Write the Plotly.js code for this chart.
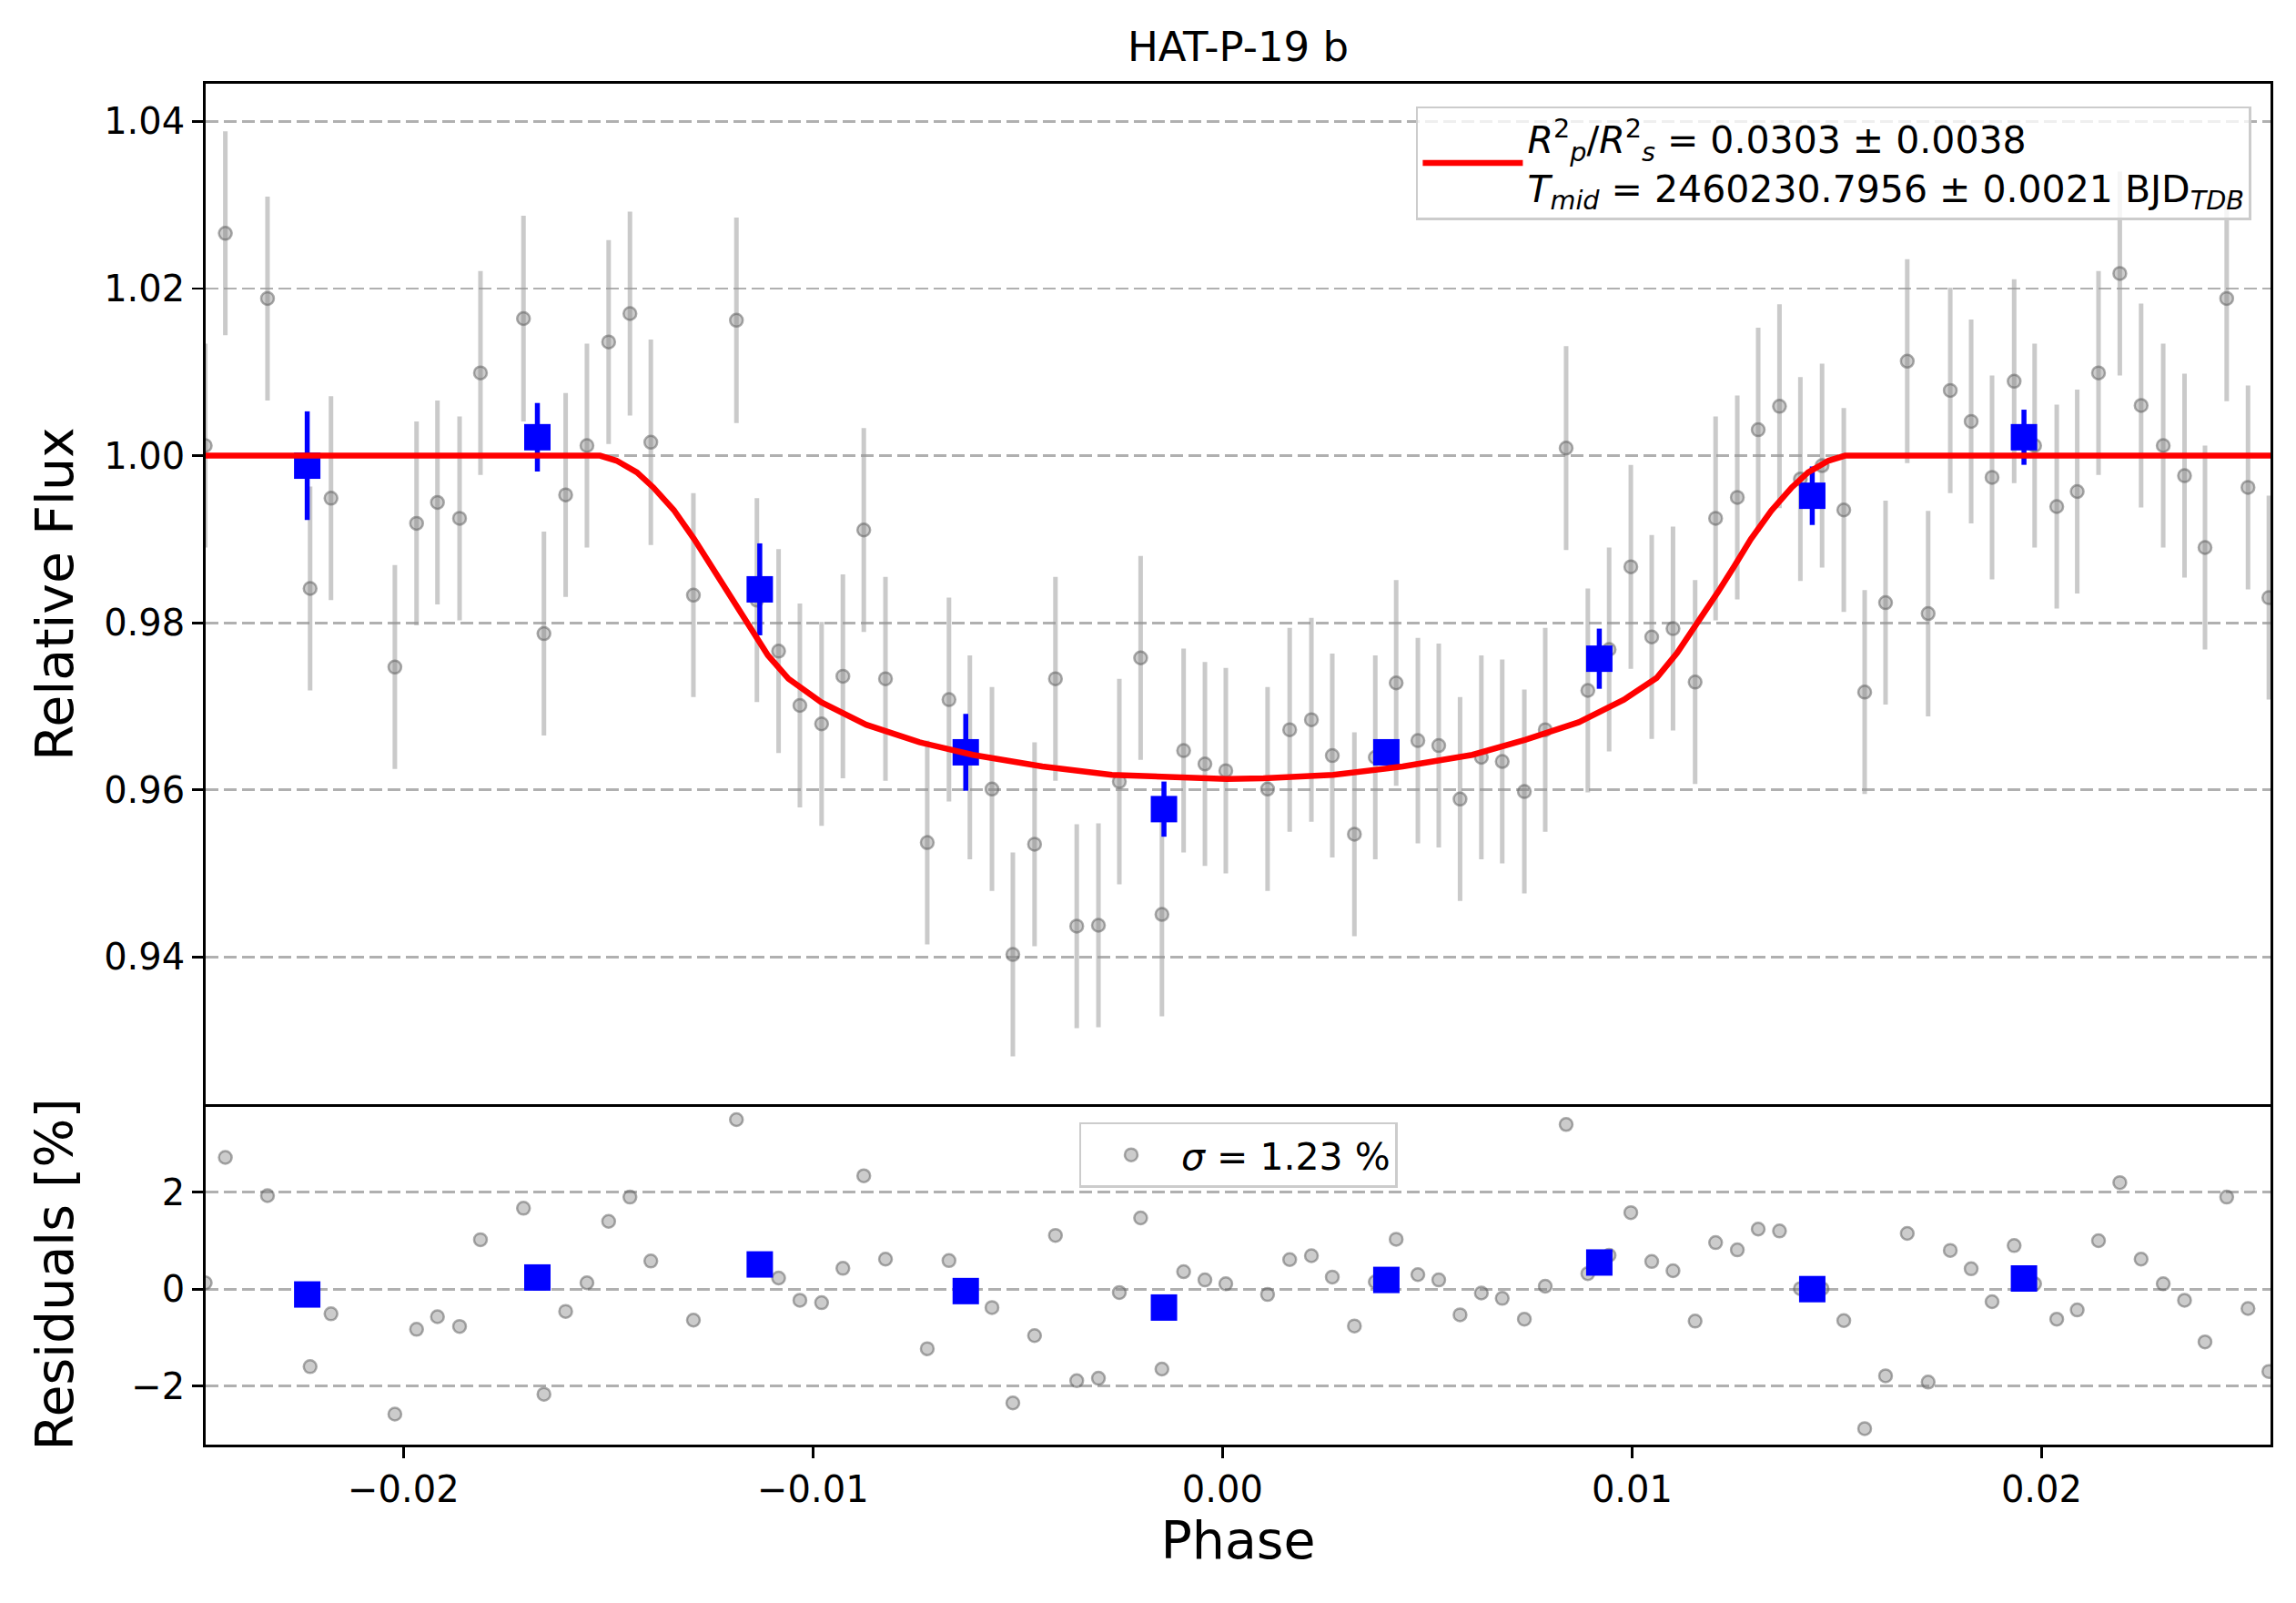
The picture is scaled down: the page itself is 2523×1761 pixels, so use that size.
<!DOCTYPE html>
<html>
<head>
<meta charset="utf-8">
<script src="https://cdn.plot.ly/plotly-3.0.1.min.js"></script>
<style>
  body { margin: 0; background: #fff; }
  #plot { width: 2523px; height: 1761px; }
</style>
</head>
<body>
<div id="plot"></div>
<script>
// phase-folded light curve
var phase = [
  -0.02484, -0.02435, -0.02332, -0.02228, -0.02177, -0.02021, -0.01968, -0.01917, -0.01863, -0.01812,
  -0.01707, -0.01657, -0.01604, -0.01552, -0.01499, -0.01447, -0.01396, -0.01292, -0.01187, -0.01137,
  -0.01084, -0.01032, -0.00979, -0.00927, -0.00876, -0.00823, -0.00721, -0.00668, -0.00617, -0.00563,
  -0.00512, -0.00459, -0.00408, -0.00356, -0.00303, -0.00252, -0.00200, -0.00148, -0.00095, -0.00043,
   0.00008,  0.00110,  0.00164,  0.00217,  0.00268,  0.00322,  0.00373,  0.00424,  0.00477,  0.00528,
   0.00580,  0.00632,  0.00683,  0.00737,  0.00788,  0.00839,  0.00892,  0.00944,  0.00997,  0.01048,
   0.01100,  0.01154,  0.01204,  0.01257,  0.01308,  0.01360,  0.01411,  0.01464,  0.01517,  0.01568,
   0.01619,  0.01672,  0.01723,  0.01777,  0.01828,  0.01879,  0.01933,  0.01983,  0.02037,  0.02087,
   0.02139,  0.02191,  0.02243,  0.02297,  0.02349,  0.02399,  0.02452,  0.02504,  0.02555
];
var flux = [
  1.0012, 1.0266, 1.0188, 0.9841, 0.9949, 0.9747, 0.9919, 0.9944, 0.9925, 1.0099,
  1.0164, 0.9787, 0.9953, 1.0012, 1.0136, 1.0170, 1.0016, 0.9833, 1.0162, 0.9827,
  0.9766, 0.9701, 0.9679, 0.9736, 0.9911, 0.9733, 0.9537, 0.9708, 0.9639, 0.9601,
  0.9403, 0.9535, 0.9733, 0.9437, 0.9438, 0.9610, 0.9758, 0.9451, 0.9647, 0.9631,
  0.9623, 0.9601, 0.9672, 0.9684, 0.9641, 0.9547, 0.9639, 0.9728, 0.9659, 0.9653,
  0.9589, 0.9639, 0.9634, 0.9598, 0.9672, 1.0009, 0.9719, 0.9768, 0.9867, 0.9783,
  0.9793, 0.9729, 0.9925, 0.9950, 1.0031, 1.0059, 0.9972, 0.9988, 0.9935, 0.9717,
  0.9824, 1.0113, 0.9811, 1.0078, 1.0041, 0.9974, 1.0089, 1.0012, 0.9939, 0.9957,
  1.0099, 1.0218, 1.0060, 1.0012, 0.9976, 0.9890, 1.0188, 0.9962, 0.9830
];
var fluxErr = [
  0.0122, 0.0122, 0.0122, 0.0122, 0.0122, 0.0122, 0.0122, 0.0122, 0.0122, 0.0122,
  0.0123, 0.0122, 0.0122, 0.0122, 0.0122, 0.0122, 0.0123, 0.0122, 0.0123, 0.0122,
  0.0122, 0.0122, 0.0122, 0.0122, 0.0122, 0.0122, 0.0122, 0.0122, 0.0122, 0.0122,
  0.0122, 0.0122, 0.0122, 0.0122, 0.0122, 0.0123, 0.0122, 0.0122, 0.0122, 0.0122,
  0.0123, 0.0122, 0.0122, 0.0122, 0.0122, 0.0122, 0.0122, 0.0123, 0.0123, 0.0122,
  0.0122, 0.0122, 0.0122, 0.0122, 0.0122, 0.0122, 0.0122, 0.0122, 0.0122, 0.0122,
  0.0122, 0.0122, 0.0122, 0.0122, 0.0122, 0.0122, 0.0122, 0.0122, 0.0122, 0.0122,
  0.0122, 0.0122, 0.0123, 0.0123, 0.0122, 0.0122, 0.0122, 0.0122, 0.0122, 0.0122,
  0.0122, 0.0122, 0.0122, 0.0122, 0.0122, 0.0122, 0.0123, 0.0122, 0.0122
];
var resid = [
   0.13,  2.72,  1.93, -1.60, -0.51, -2.58, -0.83, -0.57, -0.77,  1.02,
   1.67, -2.17, -0.46,  0.13,  1.40,  1.90,  0.58, -0.64,  3.50,  0.45,
   0.23, -0.23, -0.28,  0.43,  2.34,  0.62, -1.23,  0.59, -0.05, -0.38,
  -2.35, -0.96,  1.11, -1.89, -1.84, -0.07,  1.47, -1.65,  0.36,  0.19,
   0.11, -0.11,  0.61,  0.69,  0.25, -0.76,  0.15,  1.03,  0.30,  0.19,
  -0.53, -0.08, -0.19, -0.62,  0.06,  3.40,  0.32,  0.70,  1.58,  0.57,
   0.38, -0.66,  0.96,  0.81,  1.24,  1.20,  0.01,  0.01, -0.65, -2.88,
  -1.79,  1.15, -1.92,  0.80,  0.42, -0.26,  0.90,  0.11, -0.62, -0.43,
   1.00,  2.20,  0.62,  0.11, -0.23, -1.09,  1.90, -0.40, -1.70
];

// binned points
var binPhase = [-0.02235, -0.01673, -0.01130, -0.00627, -0.00143, 0.00400, 0.00920, 0.01440, 0.01957];
var binFlux  = [0.9988, 1.0022, 0.9840, 0.9645, 0.9577, 0.9645, 0.9757, 0.9952, 1.0022];
var binErr   = [0.0065, 0.0041, 0.0055, 0.0046, 0.0033, 0.0012, 0.0036, 0.0035, 0.0033];
var binResid = [-0.11, 0.24, 0.51, -0.04, -0.38, 0.19, 0.55, 0.00, 0.22];

// transit model curve
var modelPhase = [
  -0.0258, -0.0152, -0.0148, -0.0143, -0.0139, -0.0134, -0.0129, -0.0125, -0.0121, -0.0116,
  -0.0111, -0.0106, -0.0098, -0.0087, -0.0074, -0.0061, -0.0044, -0.0027, -0.0010, 0.0001,
   0.0010,  0.0027,  0.0044,  0.0061,  0.0074,  0.0087,  0.0098,  0.0106,  0.0111, 0.0116,
   0.0121,  0.0125,  0.0129,  0.0134,  0.0139,  0.0143,  0.0148,  0.0152,  0.0258
];
var modelFlux = [
  1.0000, 1.0000, 0.9994, 0.9980, 0.9962, 0.9935, 0.9900, 0.9869, 0.9839, 0.9799,
  0.9761, 0.9733, 0.9705, 0.9678, 0.9657, 0.9642, 0.9628, 0.9618, 0.9614, 0.9613,
  0.9614, 0.9618, 0.9628, 0.9642, 0.9660, 0.9681, 0.9708, 0.9734, 0.9764, 0.9799,
  0.9837, 0.9868, 0.9900, 0.9934, 0.9962, 0.9980, 0.9994, 1.0000, 1.0000
];

var fluxTicks = [0.94, 0.96, 0.98, 1.00, 1.02, 1.04];
var residTicks = [-2, 0, 2];
var phaseTicks = [-0.02, -0.01, 0.00, 0.01, 0.02];

var fitLabel = '<i>R</i><sup>2</sup><sub><i>p</i></sub>/<i>R</i><sup>2</sup><sub><i>s</i></sub> = 0.0303 ± 0.0038<br>' +
               '<i>T</i><sub><i>mid</i></sub> = 2460230.7956 ± 0.0021 BJD<sub><i>TDB</i></sub>';
var sigmaLabel = '<i>σ</i> = 1.23 %';

var grayMarker = {
  size: 14,
  color: 'rgba(128,128,128,0.4)',
  line: { color: 'rgba(90,90,90,0.5)', width: 2.5 }
};
var blueMarker = { symbol: 'square', size: 29, color: '#0000ff' };

var traces = [
  {
    x: phase, y: flux, type: 'scatter', mode: 'markers',
    xaxis: 'x', yaxis: 'y', showlegend: false,
    marker: grayMarker,
    error_y: { type: 'data', array: fluxErr, visible: true, color: 'rgba(150,150,150,0.5)', thickness: 5, width: 0 }
  },
  {
    x: binPhase, y: binFlux, type: 'scatter', mode: 'markers',
    xaxis: 'x', yaxis: 'y', showlegend: false,
    marker: blueMarker,
    error_y: { type: 'data', array: binErr, visible: true, color: '#0000ff', thickness: 5.5, width: 0 }
  },
  {
    x: modelPhase, y: modelFlux, type: 'scatter', mode: 'lines',
    xaxis: 'x', yaxis: 'y', name: fitLabel, legend: 'legend',
    line: { color: '#ff0000', width: 6.5 }
  },
  {
    x: phase, y: resid, type: 'scatter', mode: 'markers',
    xaxis: 'x2', yaxis: 'y2', name: sigmaLabel, legend: 'legend2',
    marker: grayMarker
  },
  {
    x: binPhase, y: binResid, type: 'scatter', mode: 'markers',
    xaxis: 'x2', yaxis: 'y2', showlegend: false,
    marker: blueMarker
  }
];

var axisLine = { showline: true, mirror: true, linecolor: '#000', linewidth: 2.8, zeroline: false };
var gridStyle = { showgrid: true, gridcolor: '#b0b0b0', gridwidth: 2.8, griddash: '14px,6px' };
var tickStyle = { ticks: 'outside', ticklen: 12, tickwidth: 2.8, tickcolor: '#000', tickfont: { size: 40 } };
var xRange = [-0.02483, 0.02559];

var layout = {
  width: 2523,
  height: 1761,
  margin: { l: 226, r: 28, t: 92, b: 174 },
  paper_bgcolor: '#fff',
  plot_bgcolor: '#fff',
  font: { family: 'DejaVu Sans', size: 40, color: '#000' },
  title: {
    text: 'HAT-P-19 b', font: { size: 45 },
    x: 0.5, xref: 'paper', y: 0.971, yref: 'container', yanchor: 'middle'
  },
  xaxis: Object.assign({
    domain: [0, 1], anchor: 'y', range: xRange,
    showticklabels: false, ticks: '', showgrid: false
  }, axisLine),
  yaxis: Object.assign({
    domain: [0.2502, 1], anchor: 'x', range: [0.9224, 1.0445],
    tickvals: fluxTicks, tickformat: '.2f',
    title: { text: 'Relative Flux', font: { size: 57 }, standoff: 16 }
  }, axisLine, gridStyle, tickStyle),
  xaxis2: Object.assign({
    domain: [0, 1], anchor: 'y2', range: xRange, matches: 'x',
    tickvals: phaseTicks, tickformat: '.2f', showgrid: false,
    title: { text: 'Phase', font: { size: 57 }, standoff: 6 }
  }, axisLine, tickStyle, { mirror: false }),
  yaxis2: Object.assign({
    domain: [0, 0.2502], anchor: 'x2', range: [-3.21, 3.82],
    tickvals: residTicks, tickformat: 'd',
    title: { text: 'Residuals [%]', font: { size: 57 }, standoff: 46 }
  }, axisLine, gridStyle, tickStyle),
  legend: {
    x: 0.9907, xanchor: 'right', y: 0.9835, yanchor: 'top',
    bgcolor: 'rgba(255,255,255,0.8)', bordercolor: '#cccccc', borderwidth: 2.5,
    font: { size: 41 }, itemwidth: 110, valign: 'middle'
  },
  legend2: {
    x: 0.5, xanchor: 'center', y: 0.2368, yanchor: 'top',
    bgcolor: 'rgba(255,255,255,0.8)', bordercolor: '#cccccc', borderwidth: 2.5,
    font: { size: 41 }, itemwidth: 100, valign: 'middle'
  }
};

Plotly.newPlot('plot', traces, layout, { displayModeBar: false, staticPlot: true });
</script>
</body>
</html>
